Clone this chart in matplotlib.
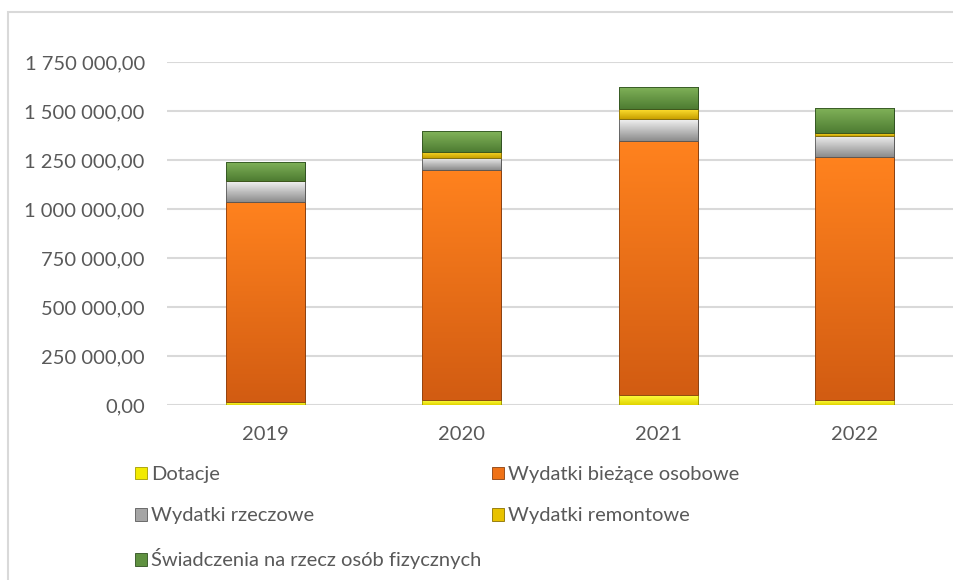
import numpy as np
import matplotlib.pyplot as plt
from matplotlib.patches import Rectangle, Patch
from matplotlib.colors import LinearSegmentedColormap

plt.rcParams['font.family'] = ['Lato', 'DejaVu Sans']

years = ['2019', '2020', '2021', '2022']
dotacje = [15000, 25000, 49000, 25000]
osobowe = [1021000, 1174000, 1298000, 1239000]
rzeczowe = [107000, 63000, 111000, 108000]
remontowe = [2000, 31000, 51000, 14000]
swiadczenia = [97000, 105000, 115000, 128000]

# name, values, face, edge, gradient top, gradient bottom
series = [
    ('Dotacje', dotacje, '#f2ea00', '#a39b00', '#ffff40', '#e0d400'),
    ('Wydatki bieżące osobowe', osobowe, '#ef7217', '#8a4010', '#ff821e', '#d25c12'),
    ('Wydatki rzeczowe', rzeczowe, '#a5a5a5', '#5a5a5a', '#f2f2f2', '#8c8c8c'),
    ('Wydatki remontowe', remontowe, '#e8c200', '#8a7000', '#ffe030', '#c8a000'),
    ('Świadczenia na rzecz osób fizycznych', swiadczenia, '#5f9140', '#2f5020', '#82b45a', '#4e7c32'),
]

fig = plt.figure(figsize=(9.54, 5.80), dpi=100)
ax = fig.add_axes([167 / 954, 1 - 405 / 580, (953 - 167) / 954, (405 - 62) / 580])

x = np.arange(len(years))
bottom = np.zeros(len(years))
handles = []
grad = np.linspace(1, 0, 64).reshape(-1, 1)
for name, vals, col, edge, ctop, cbot in series:
    bars = ax.bar(x, vals, width=0.4, bottom=bottom, color=col, edgecolor=edge,
                  linewidth=0.6, zorder=3)
    cmap = LinearSegmentedColormap.from_list(name, [cbot, ctop])
    for r in bars:
        x0, y0, w, h = r.get_x(), r.get_y(), r.get_width(), r.get_height()
        if h <= 0:
            continue
        im = ax.imshow(grad, cmap=cmap, aspect='auto', extent=(x0, x0 + w, y0, y0 + h),
                       zorder=3.5, interpolation='bilinear')
        im.set_clip_path(r)
        ax.add_patch(Rectangle((x0, y0), w, h, fill=False, edgecolor=edge,
                               linewidth=0.6, zorder=4))
    bottom += np.array(vals)
    handles.append(Patch(facecolor=col, edgecolor=edge, linewidth=0.6, label=name))

ax.set_xlim(-0.5, len(years) - 0.5)
ax.set_ylim(0, 1750000)
ticks = np.arange(0, 1750001, 250000)
ax.set_yticks(ticks)
ax.set_yticklabels([f'{t:,.2f}'.replace(',', ' ').replace('.', ',') for t in ticks])
ax.set_xticks(x)
ax.set_xticklabels(years)
ax.tick_params(length=0, labelsize=14.5, colors='#595959')
ax.tick_params(axis='y', pad=16)
ax.tick_params(axis='x', pad=15)
ax.grid(axis='y', color='#d9d9d9', linewidth=1.5, zorder=0)
for s in ax.spines.values():
    s.set_visible(False)

order = [0, 2, 4, 1, 3]
leg = fig.legend([handles[i] for i in order], [series[i][0] for i in order],
                 ncol=2, loc='upper left', bbox_to_anchor=(127 / 954, 1 - 458 / 580),
                 frameon=False, fontsize=14.5, handlelength=0.6, handleheight=0.6,
                 handletextpad=0.2, labelspacing=1.2, columnspacing=0.5,
                 labelcolor='#595959', borderaxespad=0)

fig.patches.append(Rectangle((8 / 954, -0.1), 1.1, 1 - 12 / 580 + 0.1,
                             transform=fig.transFigure, fill=False,
                             edgecolor='#d9d9d9', linewidth=1.5))

fig.savefig('out.png', dpi=100)
